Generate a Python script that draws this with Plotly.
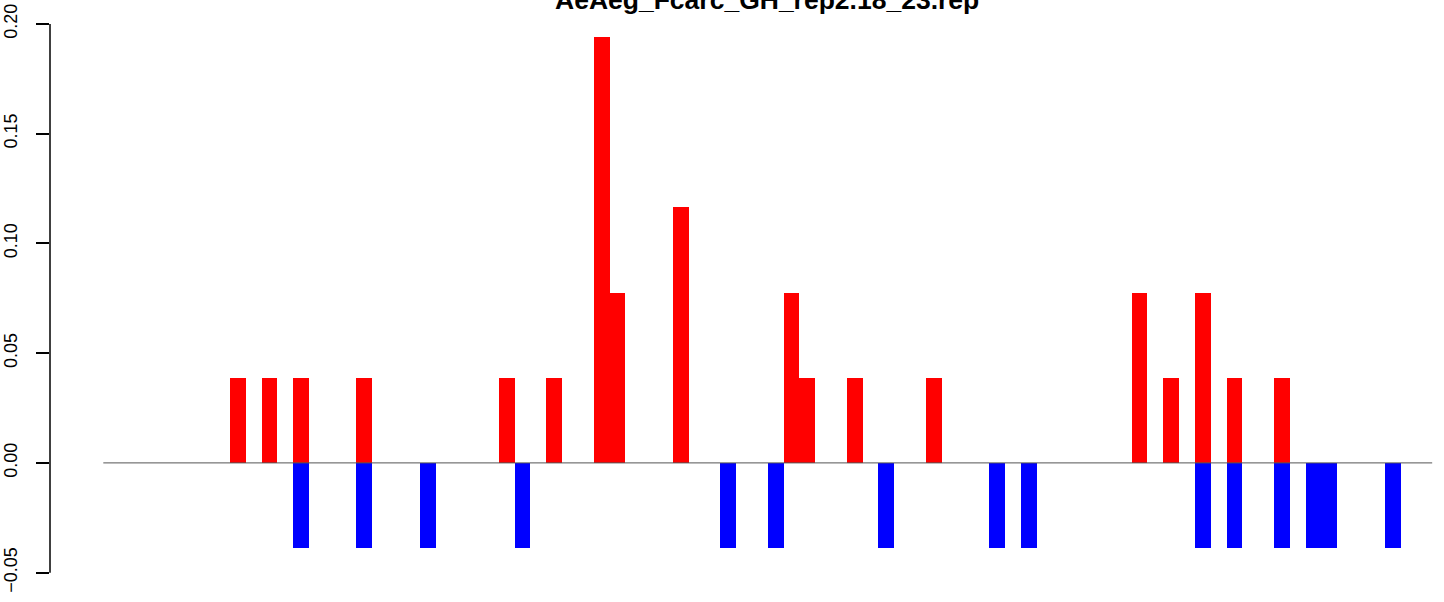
import plotly.graph_objects as go

# ---- data ----
n_bins = 84

red_bins = [8, 10, 12, 16, 25, 28, 31, 32, 36, 43, 44, 47, 52, 65, 67, 69, 71, 74]
red_values = [0.0388, 0.0388, 0.0388, 0.0388, 0.0388, 0.0388, 0.194, 0.0776, 0.1164,
              0.0776, 0.0388, 0.0388, 0.0388, 0.0776, 0.0388, 0.0776, 0.0388, 0.0388]

blue_bins = [12, 16, 20, 26, 39, 42, 49, 56, 58, 69, 71, 74, 76, 77, 81]
blue_values = [-0.0388] * len(blue_bins)

y_tick_vals = [-0.05, 0.00, 0.05, 0.10, 0.15, 0.20]
y_tick_text = ["\u22120.05", "0.00", "0.05", "0.10", "0.15", "0.20"]

title_text = "AeAeg_Fcarc_GH_rep2.18_23.rep"

fig = go.Figure()
fig.add_trace(go.Bar(x=[b + 0.5 for b in red_bins], y=red_values, width=1,
                     marker=dict(color="#FF0000", line=dict(width=0)), showlegend=False))
fig.add_trace(go.Bar(x=[b + 0.5 for b in blue_bins], y=blue_values, width=1,
                     marker=dict(color="#0000FF", line=dict(width=0)), showlegend=False))

# zero line over the bar span
fig.add_shape(type="line", xref="x", yref="y", x0=0, x1=n_bins, y0=0, y1=0,
              line=dict(color="#555555", width=1), layer="above")
# y axis line spanning only the tick range (R style)
fig.add_shape(type="line", xref="paper", yref="y", x0=0, x1=0,
              y0=y_tick_vals[0], y1=y_tick_vals[-1],
              line=dict(color="black", width=1.5))

# title (partly cut at the top edge, as in the reference)
fig.add_annotation(text="<b>" + title_text + "</b>", xref="paper", yref="paper",
                   x=(767.5 - 50) / 1394, y=(592 - 0) / 582, xanchor="center", yanchor="middle",
                   showarrow=False,
                   font=dict(size=26.5, family="Liberation Sans, Arial, sans-serif", color="black"))

fig.update_layout(
    width=1444, height=602,
    margin=dict(l=50, r=0, t=10, b=10, autoexpand=False),
    paper_bgcolor="white", plot_bgcolor="white",
    barmode="overlay", bargap=0,
    font=dict(family="Liberation Sans, Arial, sans-serif", color="black"),
    xaxis=dict(range=[-3.369, 84.747], showgrid=False, zeroline=False, showline=False,
               showticklabels=False, ticks="", automargin=False),
    yaxis=dict(range=[-0.05882, 0.20635], showgrid=False, zeroline=False, showline=False,
               automargin=False,
               tickvals=y_tick_vals, ticktext=y_tick_text, tickangle=-90,
               ticks="outside", ticklen=13, tickwidth=1.5, tickcolor="black",
               ticklabelstandoff=12,
               tickfont=dict(size=18, family="Liberation Sans, Arial, sans-serif", color="black")),
)

fig.write_html("out.html", config={"displayModeBar": False},
               post_script="document.body.style.margin='0px';document.body.style.padding='0px';")
